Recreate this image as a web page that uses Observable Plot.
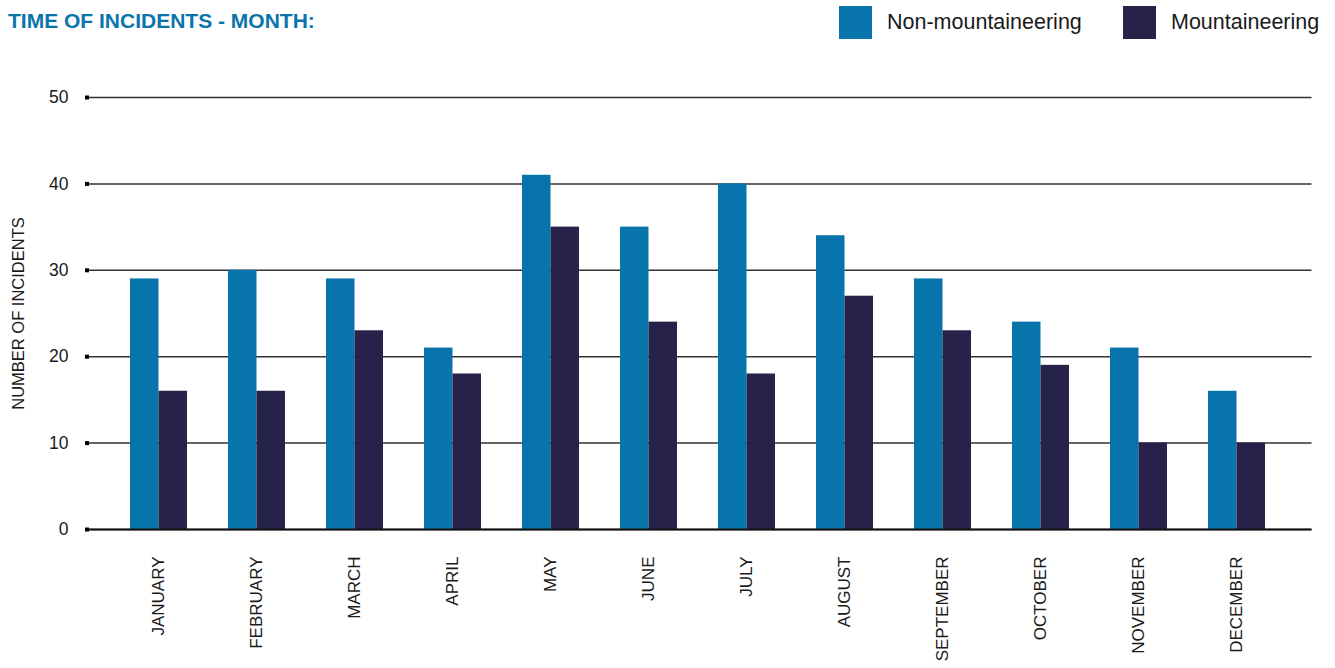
<!DOCTYPE html>
<html><head><meta charset="utf-8">
<script src="https://cdn.jsdelivr.net/npm/d3@7"></script>
<script src="https://cdn.jsdelivr.net/npm/@observablehq/plot@0.6"></script>
<style>
body{margin:0;background:#fff;font-family:"Liberation Sans",Arial,sans-serif;}
#header{position:relative;height:46px;width:1335px;}
#title{position:absolute;left:8px;top:10px;font-size:21px;line-height:21px;font-weight:bold;color:#0a74ad;white-space:nowrap;}
.item{position:absolute;top:6px;display:flex;align-items:center;height:33px;}
.sw{width:33px;height:33px;margin-right:15px;}
.lab{font-size:21.5px;color:#1a1a1a;white-space:nowrap;}
</style></head>
<body>
<div id="header">
  <div id="title">TIME OF INCIDENTS - MONTH:</div>
  <div class="item" id="leg0" style="left:839px"><div class="sw"></div><div class="lab"></div></div>
  <div class="item" id="leg1" style="left:1123px"><div class="sw"></div><div class="lab"></div></div>
</div>
<div id="chart"></div>
<script>
const months = ["JANUARY","FEBRUARY","MARCH","APRIL","MAY","JUNE","JULY","AUGUST","SEPTEMBER","OCTOBER","NOVEMBER","DECEMBER"];
const seriesNames = ["Non-mountaineering","Mountaineering"];
const seriesColors = ["#0874ac","#26224a"];
const nonMountaineering = [29,30,29,21,41,35,40,34,29,24,21,16];
const mountaineering = [16,16,23,18,35,24,18,27,23,19,10,10];
const yTicks = [0,10,20,30,40,50];
const yLabel = "NUMBER OF INCIDENTS";

seriesNames.forEach((n,i)=>{
  const el = document.getElementById("leg"+i);
  el.querySelector(".sw").style.background = seriesColors[i];
  el.querySelector(".lab").textContent = n;
});

const data = months.map((m,i)=>({month:m, non:nonMountaineering[i], mount:mountaineering[i]}));

const chart = Plot.plot({
  width:1335, height:622,
  marginLeft:89, marginRight:23.5, marginTop:51, marginBottom:139,
  style:{fontFamily:'"Liberation Sans",Arial,sans-serif', fontSize:"17px", color:"#1a1a1a", background:"white", overflow:"visible"},
  x:{domain:months, paddingInner:0.419, paddingOuter:0.441, align:0.467, label:null},
  y:{domain:[0,50], ticks:yTicks, label:null},
  marks:[
    Plot.ruleY(yTicks, {stroke:"#333", strokeWidth:1.5}),
    Plot.barY(data, {x:"month", y:"non", fill:seriesColors[0], insetRight:28.5}),
    Plot.barY(data, {x:"month", y:"mount", fill:seriesColors[1], insetLeft:28.5}),
    Plot.ruleY([0], {stroke:"#111", strokeWidth:2}),
    Plot.axisY({ticks:yTicks, tickSize:4, strokeWidth:4, stroke:"#000", tickPadding:17, fontSize:17.5, label:null}),
    Plot.axisX({tickRotate:-90, tickSize:0, tickPadding:27, fontSize:17, label:null}),
    Plot.text([yLabel], {text:d=>d, frameAnchor:"left", rotate:-90, dx:-71, fontSize:16.5, textAnchor:"middle", fill:"#1a1a1a"})
  ]
});
document.getElementById("chart").appendChild(chart);
</script>
</body></html>
